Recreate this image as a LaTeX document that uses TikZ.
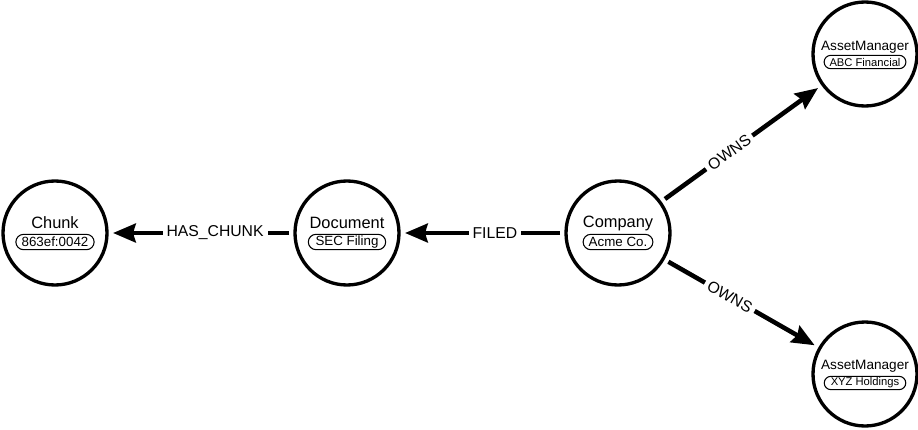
\documentclass[tikz,border=0pt]{standalone}
\usepackage{fontspec}
\setmainfont{Liberation Sans}
\usetikzlibrary{arrows.meta,shapes.misc}
\begin{document}
\begin{tikzpicture}[x=0.75pt,y=-0.75pt,
  entity/.style={circle,draw=black,line width=2.5pt,minimum size=78pt,inner sep=0pt,outer sep=4.5pt},
  title/.style={inner sep=0pt,font=\fontsize{12.3}{14}\selectfont},
  smalltitle/.style={inner sep=0pt,font=\fontsize{10.2}{12}\selectfont},
  badge/.style={rounded rectangle,draw=black,line width=0.8pt,inner xsep=3pt,inner ysep=1pt,minimum height=11.5pt,font=\fontsize{10}{11}\selectfont},
  smallbadge/.style={rounded rectangle,draw=black,line width=0.8pt,inner xsep=3pt,inner ysep=0.8pt,minimum height=10pt,font=\fontsize{8.4}{10}\selectfont},
  rel/.style={line width=3.4pt,-{Stealth[length=17pt,width=14pt,inset=2pt]}},
  rellabel/.style={fill=white,inner xsep=3pt,inner ysep=1pt,font=\fontsize{11.8}{13}\selectfont,pos=0.42}
]
\useasboundingbox (0,0) rectangle (918,429);

\node[entity] (chunk) at (55,233) {};
\node[title] (chunkT) at (55,223) {Chunk};
\node[badge] (chunkB) at (55,242) {863ef:0042};

\node[entity] (doc) at (347,233) {};
\node[title] (docT) at (347,223) {Document};
\node[badge] (docB) at (347,242) {SEC Filing};

\node[entity] (comp) at (618,233) {};
\node[title] (compT) at (618,223) {Company};
\node[badge] (compB) at (618,242) {Acme Co.};

\node[entity] (am1) at (865,54) {};
\node[smalltitle] (am1T) at (865,47) {AssetManager};
\node[smallbadge] (am1B) at (865,62) {ABC Financial};

\node[entity] (am2) at (865,374) {};
\node[smalltitle] (am2T) at (865,366) {AssetManager};
\node[smallbadge] (am2B) at (865,383) {XYZ Holdings};

\draw[rel] (doc) -- node[rellabel] {HAS\_CHUNK} (chunk);
\draw[rel] (comp) -- node[rellabel] {FILED} (doc);
\draw[rel] (comp) -- node[rellabel,sloped] {OWNS} (am1);
\draw[rel] (comp) -- node[rellabel,sloped] {OWNS} (am2);
\end{tikzpicture}
\end{document}
